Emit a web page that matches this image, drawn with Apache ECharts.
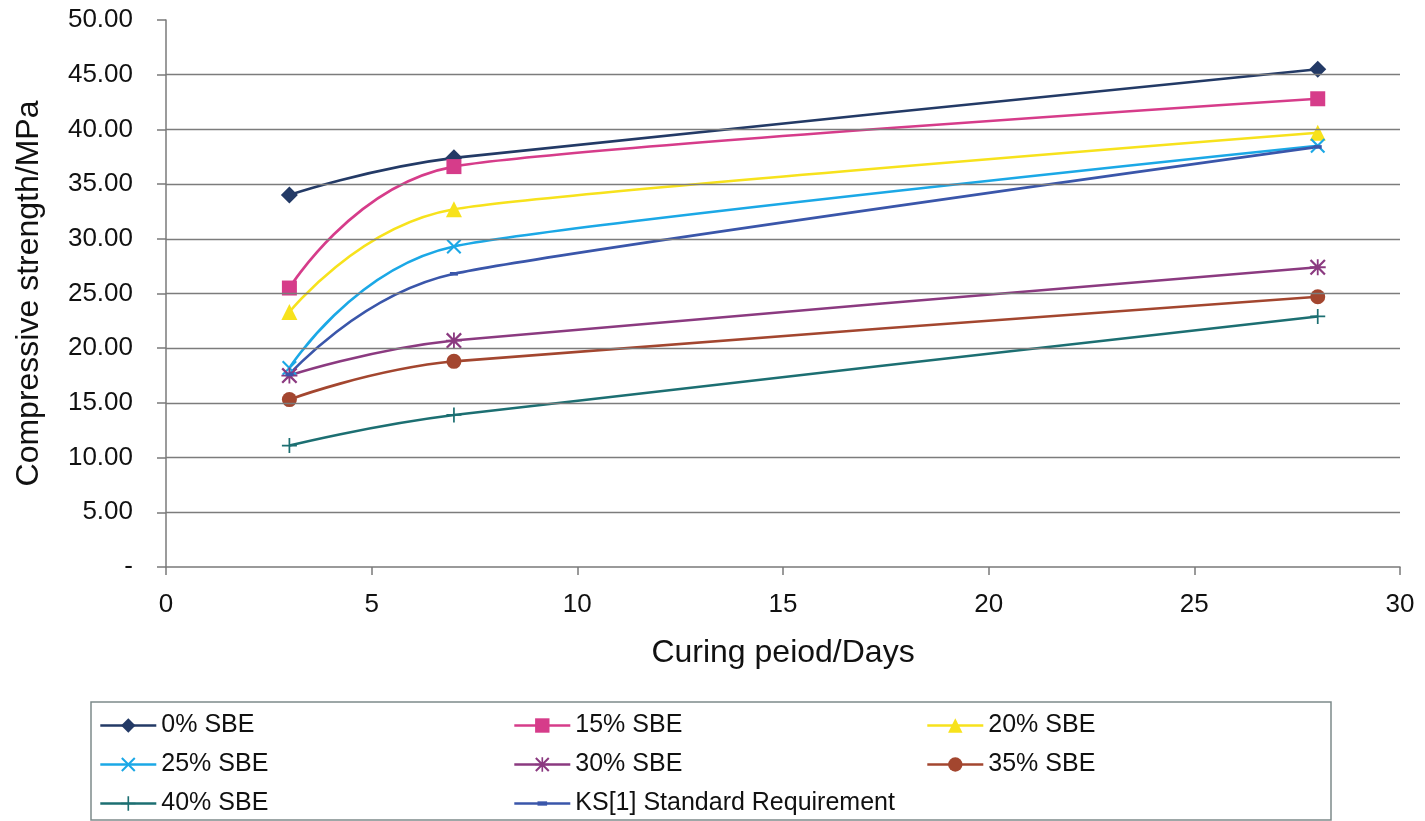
<!DOCTYPE html>
<html>
<head>
<meta charset="utf-8">
<title>Compressive strength vs curing period</title>
<script src="https://cdn.jsdelivr.net/npm/echarts@6/dist/echarts.min.js"></script>
<style>
  html, body { margin: 0; padding: 0; background: #ffffff; }
  #chart { width: 1425px; height: 821px; }
</style>
</head>
<body>
<div id="chart"></div>
<script>
// Curing ages (days) at which cubes were crushed
const curingDays = [3, 7, 28];

// Compressive strength (MPa) per SBE replacement level
const sbe0  = [34.0, 37.4, 45.5];
const sbe15 = [25.5, 36.6, 42.8];
const sbe20 = [23.3, 32.7, 39.7];
const sbe25 = [18.2, 29.3, 38.5];
const sbe30 = [17.5, 20.7, 27.4];
const sbe35 = [15.3, 18.8, 24.7];
const sbe40 = [11.1, 13.9, 22.9];
const ksStandard = [17.6, 26.8, 38.4];

const seriesNames = ['0% SBE', '15% SBE', '20% SBE', '25% SBE', '30% SBE', '35% SBE', '40% SBE', 'KS[1] Standard Requirement'];

// Horizontal reference lines (the 50 line is left as a tick only)
const gridValues = [5, 10, 15, 20, 25, 30, 35, 40, 45];

// Marker outlines built as filled paths
const crossPath = 'path://M0,1.4 L1.4,0 L7,5.6 L12.6,0 L14,1.4 L8.4,7 L14,12.6 L12.6,14 L7,8.4 L1.4,14 L0,12.6 L5.6,7 Z';
const starPath = 'path://M0,1.4 L1.4,0 L7,5.6 L12.6,0 L14,1.4 L8.4,7 L14,12.6 L12.6,14 L7,8.4 L1.4,14 L0,12.6 L5.6,7 Z M6.2,0 L7.8,0 L7.8,14 L6.2,14 Z M0,6.2 L14,6.2 L14,7.8 L0,7.8 Z';
const plusPath = 'path://M6.2,0 L7.8,0 L7.8,6.2 L14,6.2 L14,7.8 L7.8,7.8 L7.8,14 L6.2,14 L6.2,7.8 L0,7.8 L0,6.2 L6.2,6.2 Z';
const dashPath = 'path://M0,0 M12,12 M2,4.2 L10,4.2 L10,7.8 L2,7.8 Z';

const FONT = 'Liberation Sans, Arial, sans-serif';

function pairs(vals) {
  return curingDays.map((d, i) => [d, vals[i]]);
}

// Spreadsheet-style smoothing: cubic Bezier segments whose tangent arms
// follow the neighbouring points, capped by half the adjacent segment length.
function smoothPathData(pts) {
  const n = pts.length;
  const arms = pts.map((p, i) => {
    if (i === 0 || i === n - 1) return [0, 0];
    const prev = pts[i - 1], next = pts[i + 1];
    const vx = next[0] - prev[0], vy = next[1] - prev[1];
    const d02 = Math.hypot(vx, vy);
    const d01 = Math.hypot(p[0] - prev[0], p[1] - prev[1]);
    const d12 = Math.hypot(next[0] - p[0], next[1] - p[1]);
    if (d02 === 0) return [0, 0];
    const arm = Math.min(d02 / 6, d01 / 2, d12 / 2);
    return [vx / d02 * arm, vy / d02 * arm];
  });
  let d = 'M' + pts[0][0].toFixed(2) + ',' + pts[0][1].toFixed(2);
  for (let i = 0; i < n - 1; i++) {
    const c1 = [pts[i][0] + arms[i][0], pts[i][1] + arms[i][1]];
    const c2 = [pts[i + 1][0] - arms[i + 1][0], pts[i + 1][1] - arms[i + 1][1]];
    d += ' C' + c1[0].toFixed(2) + ',' + c1[1].toFixed(2) + ' ' +
         c2[0].toFixed(2) + ',' + c2[1].toFixed(2) + ' ' +
         pts[i + 1][0].toFixed(2) + ',' + pts[i + 1][1].toFixed(2);
  }
  return d;
}

// Smoothed curve through the points, positioned with the chart's axes
function curve(vals, color) {
  return {
    type: 'custom',
    data: pairs(vals),
    silent: true,
    z: 2,
    renderItem: function (params, api) {
      if (params.dataIndex !== 0) return { type: 'group', children: [] };
      const pts = curingDays.map((d, i) => api.coord([d, vals[i]]));
      return {
        type: 'path',
        shape: { pathData: smoothPathData(pts) },
        style: { fill: 'none', stroke: color, lineWidth: 2.6, lineJoin: 'round' }
      };
    }
  };
}

// Markers (and legend entry) for one mix
function markers(name, vals, color, symbol, size) {
  return {
    name: name,
    type: 'line',
    data: pairs(vals),
    symbol: symbol,
    symbolSize: size,
    showSymbol: true,
    lineStyle: { color: color, width: 2.6, opacity: 0 },
    itemStyle: { color: color },
    z: 4
  };
}

const chart = echarts.init(document.getElementById('chart'), null, { renderer: 'canvas' });

const legendCommon = {
  orient: 'vertical',
  itemWidth: 56,
  itemHeight: 18,
  itemGap: 12,
  lineStyle: { opacity: 1, width: 2.6 },
  textStyle: { fontFamily: FONT, fontSize: 25, color: '#111', lineHeight: 27 },
  padding: 0,
  selectedMode: false
};

const mixes = [
  [sbe0, '#233a66', 'diamond', 17],
  [sbe15, '#d63c8a', 'rect', 15],
  [sbe20, '#f7e21c', 'triangle', 16],
  [sbe25, '#1ba8e6', crossPath, 15],
  [sbe30, '#8b3a80', starPath, 16],
  [sbe35, '#a3462f', 'circle', 15],
  [sbe40, '#1c6f72', plusPath, 15],
  [ksStandard, '#3a56aa', dashPath, 12]
];

const series = [
  {
    name: 'gridlines',
    type: 'line',
    data: [],
    silent: true,
    markLine: {
      silent: true,
      symbol: 'none',
      label: { show: false },
      lineStyle: { color: '#7c7c7c', width: 1.3, type: 'solid' },
      data: gridValues.map(v => ({ yAxis: v }))
    },
    z: 1
  }
];
mixes.forEach((m, i) => series.push(curve(m[0], m[1])));
mixes.forEach((m, i) => series.push(markers(seriesNames[i], m[0], m[1], m[2], m[3])));

chart.setOption({
  animation: false,
  backgroundColor: '#ffffff',
  grid: { left: 166, right: 25, top: 20, bottom: 254, containLabel: false },
  xAxis: {
    type: 'value',
    min: 0,
    max: 30,
    interval: 5,
    name: 'Curing peiod/Days',
    nameLocation: 'middle',
    nameGap: 70,
    nameTextStyle: { fontFamily: FONT, fontSize: 32, color: '#111' },
    axisLine: { show: true, onZero: false, lineStyle: { color: '#7a7a7a', width: 1.5 } },
    axisTick: { show: true, length: 8, lineStyle: { color: '#7a7a7a', width: 1.5 } },
    axisLabel: { fontFamily: FONT, fontSize: 26, color: '#111', margin: 25 },
    splitLine: { show: false }
  },
  yAxis: {
    type: 'value',
    min: 0,
    max: 50,
    interval: 5,
    name: 'Compressive strength/MPa',
    nameLocation: 'middle',
    nameGap: 121,
    nameTextStyle: { fontFamily: FONT, fontSize: 32, color: '#111' },
    axisLine: { show: true, lineStyle: { color: '#7a7a7a', width: 1.5 } },
    axisTick: { show: true, length: 9, lineStyle: { color: '#7a7a7a', width: 1.5 } },
    axisLabel: {
      fontFamily: FONT, fontSize: 26, color: '#111', margin: 33,
      formatter: v => (v === 0 ? '-' : v.toFixed(2))
    },
    splitLine: { show: false }
  },
  legend: [
    Object.assign({ left: 99, top: 712, data: ['0% SBE', '25% SBE', '40% SBE'] }, legendCommon),
    Object.assign({ left: 513, top: 712, data: ['15% SBE', '30% SBE', 'KS[1] Standard Requirement'] }, legendCommon),
    Object.assign({ left: 926, top: 712, data: ['20% SBE', '35% SBE'] }, legendCommon)
  ],
  graphic: [
    {
      type: 'rect',
      shape: { x: 91, y: 702, width: 1240, height: 118 },
      style: { fill: 'none', stroke: '#7d8a8a', lineWidth: 1.5 },
      silent: true,
      z: 0
    }
  ],
  series: series
});
</script>
</body>
</html>
